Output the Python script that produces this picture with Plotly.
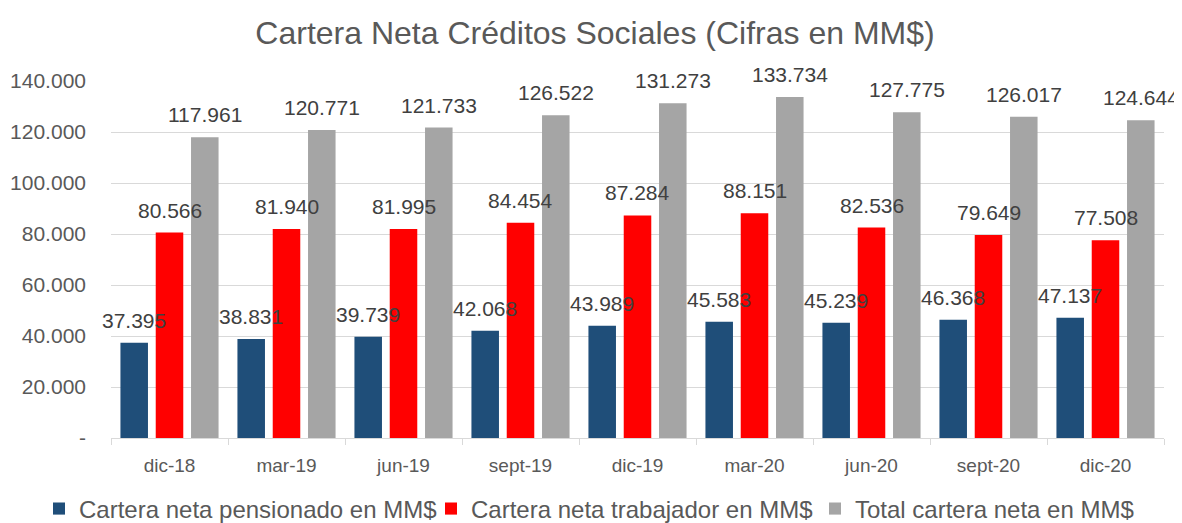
import plotly.graph_objects as go

categories = ["dic-18", "mar-19", "jun-19", "sept-19", "dic-19", "mar-20", "jun-20", "sept-20", "dic-20"]
pensionado = [37395, 38831, 39739, 42068, 43989, 45583, 45239, 46368, 47137]
trabajador = [80566, 81940, 81995, 84454, 87284, 88151, 82536, 79649, 77508]
total = [117961, 120771, 121733, 126522, 131273, 133734, 127775, 126017, 124644]

y_tickvals = [0, 20000, 40000, 60000, 80000, 100000, 120000, 140000]
y_ticktext = ["-", "20.000", "40.000", "60.000", "80.000", "100.000", "120.000", "140.000"]

series = [
    ("Cartera neta pensionado en MM$", pensionado, "#1F4E79"),
    ("Cartera neta trabajador en MM$", trabajador, "#FF0000"),
    ("Total cartera neta en MM$", total, "#A5A5A5"),
]

FONT = "Liberation Sans, Arial, sans-serif"


def fmt(v):
    return f"{v:,.0f}".replace(",", ".")


# page body has an 8px default margin, so the figure is sized to fit the window
W, H = 1174, 515

fig = go.Figure()
offsets = [-1, 0, 1]
legend_ids = ["legend", "legend2", "legend3"]
legend_left = [31, 423, 807]  # px, left edge of each legend entry
SLOT = 35.3  # px between bar centres within a group
for (name, vals, color), off, lid in zip(series, offsets, legend_ids):
    fig.add_trace(go.Bar(
        x=categories, y=vals, name=name, legend=lid,
        marker=dict(color=color, line=dict(width=0)),
        cliponaxis=False,
    ))
    for c, v in zip(categories, vals):
        fig.add_annotation(
            x=c, y=v, xref="x", yref="y", text=fmt(v), showarrow=False,
            xanchor="center", yanchor="bottom", xshift=off * SLOT, yshift=9,
            font=dict(family=FONT, size=21, color="#404040"),
        )

legend_common = dict(orientation="h", xanchor="left", xref="container",
                     y=1 - 501 / H, yanchor="middle", yref="container",
                     font=dict(family=FONT, size=24, color="#595959"),
                     itemclick=False, bgcolor="rgba(0,0,0,0)")

fig.update_layout(
    width=W, height=H,
    paper_bgcolor="white", plot_bgcolor="white",
    barmode="group", bargap=0.095, bargroupgap=0.22,
    margin=dict(l=103, r=18, t=73, b=85, autoexpand=False),
    title=dict(text="Cartera Neta Créditos Sociales (Cifras en MM$)",
               x=0.5, xanchor="center", y=1 - 25 / H, yanchor="middle",
               font=dict(family=FONT, size=32, color="#595959")),
    font=dict(family=FONT, color="#595959"),
    showlegend=True,
    legend=dict(x=legend_left[0] / W, **legend_common),
    legend2=dict(x=legend_left[1] / W, **legend_common),
    legend3=dict(x=legend_left[2] / W, **legend_common),
)
fig.update_xaxes(
    type="category", range=[-0.5, len(categories) - 0.5], autorange=False,
    showgrid=False, showline=True, linecolor="#D9D9D9", linewidth=1,
    ticks="outside", tickson="boundaries", ticklen=6, tickcolor="#D9D9D9",
    ticklabelstandoff=10,
    tickfont=dict(family=FONT, size=19, color="#595959"),
)
fig.update_yaxes(
    range=[0, 140000], autorange=False, tickvals=y_tickvals, ticktext=y_ticktext,
    showgrid=True, gridcolor="#D9D9D9", gridwidth=1, zeroline=False,
    showline=False, ticks="", ticklabelstandoff=24,
    tickfont=dict(family=FONT, size=21, color="#595959"),
)

fig.write_html("out.html")
